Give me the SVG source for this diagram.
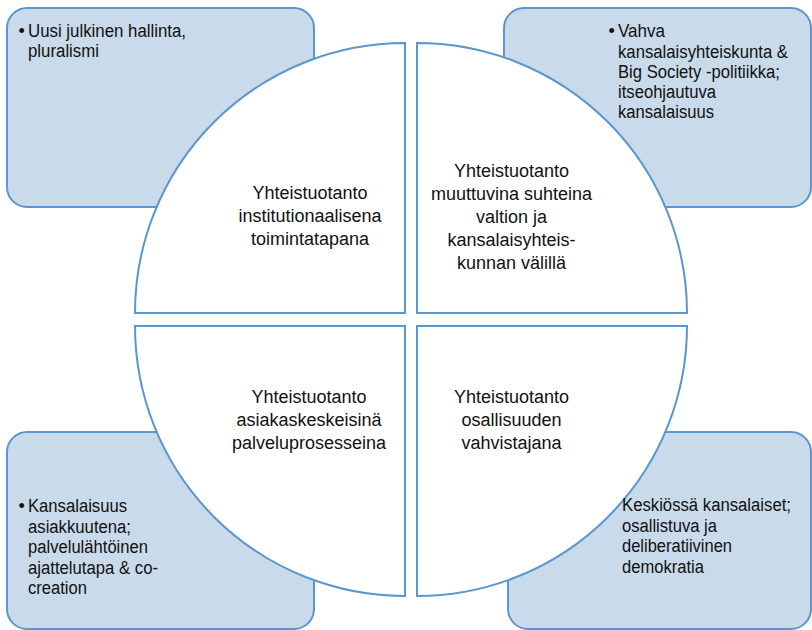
<svg xmlns="http://www.w3.org/2000/svg" width="812" height="630" viewBox="0 0 812 630">
<style>
.box{fill:#c9daeb;stroke:#5b96d0;stroke-width:2}
.quad{fill:#ffffff;stroke:#5b96d0;stroke-width:2}
.ct{font-family:"Liberation Sans",Arial,sans-serif;font-size:18px;fill:#111111;text-anchor:middle}
.bt{font-family:"Liberation Sans",Arial,sans-serif;font-size:18px;fill:#111111}
</style>
<rect width="812" height="630" fill="#ffffff"/>
<g id="box-tl"><rect class="box" x="7" y="8" width="307" height="199" rx="20"/></g>
<g id="box-tr"><rect class="box" x="504" y="8" width="307" height="199" rx="20"/></g>
<g id="box-bl"><rect class="box" x="7" y="432" width="307" height="197" rx="20"/></g>
<g id="box-br"><rect class="box" x="508" y="432" width="303" height="197" rx="20"/></g>
<g id="quad-tl">
<path class="quad" d="M405,313 L405,43 A270,270 0 0 0 135,313 Z"/>
<text class="ct" x="310" y="199">Yhteistuotanto</text>
<text class="ct" x="310" y="222">institutionaalisena</text>
<text class="ct" x="310" y="245">toimintatapana</text>
</g>
<g id="quad-tr">
<path class="quad" d="M417,313 L417,43 A270,270 0 0 1 687,313 Z"/>
<text class="ct" x="511.5" y="177">Yhteistuotanto</text>
<text class="ct" x="511.5" y="200">muuttuvina suhteina</text>
<text class="ct" x="511.5" y="223">valtion ja</text>
<text class="ct" x="511.5" y="246">kansalaisyhteis-</text>
<text class="ct" x="511.5" y="269">kunnan välillä</text>
</g>
<g id="quad-bl">
<path class="quad" d="M405,326 L135,326 A270,270 0 0 0 405,596 Z"/>
<text class="ct" x="309" y="403">Yhteistuotanto</text>
<text class="ct" x="309" y="426">asiakaskeskeisinä</text>
<text class="ct" x="309" y="449">palveluprosesseina</text>
</g>
<g id="quad-br">
<path class="quad" d="M417,326 L687,326 A270,270 0 0 1 417,596 Z"/>
<text class="ct" x="511.5" y="403">Yhteistuotanto</text>
<text class="ct" x="511.5" y="426">osallisuuden</text>
<text class="ct" x="511.5" y="449">vahvistajana</text>
</g>
<g id="box-tl-text" class="bt">
<text x="18.5" y="36.5">•</text>
<text x="28" y="36.5" textLength="158" lengthAdjust="spacingAndGlyphs">Uusi julkinen hallinta,</text>
<text x="28" y="57" textLength="71" lengthAdjust="spacingAndGlyphs">pluralismi</text>
</g>
<g id="box-tr-text" class="bt">
<text x="608.5" y="37.3">•</text>
<text x="618" y="37.3" textLength="47" lengthAdjust="spacingAndGlyphs">Vahva</text>
<text x="618" y="57.5" textLength="170" lengthAdjust="spacingAndGlyphs">kansalaisyhteiskunta &amp;</text>
<text x="618" y="77.7" textLength="162" lengthAdjust="spacingAndGlyphs">Big Society -politiikka;</text>
<text x="618" y="97.5" textLength="98" lengthAdjust="spacingAndGlyphs">itseohjautuva</text>
<text x="618" y="117.5" textLength="96" lengthAdjust="spacingAndGlyphs">kansalaisuus</text>
</g>
<g id="box-bl-text" class="bt">
<text x="18.5" y="512">•</text>
<text x="28" y="512" textLength="99" lengthAdjust="spacingAndGlyphs">Kansalaisuus</text>
<text x="28" y="532.5" textLength="103" lengthAdjust="spacingAndGlyphs">asiakkuutena;</text>
<text x="28" y="553" textLength="120" lengthAdjust="spacingAndGlyphs">palvelulähtöinen</text>
<text x="28" y="573.5" textLength="130" lengthAdjust="spacingAndGlyphs">ajattelutapa &amp; co-</text>
<text x="28" y="594" textLength="59" lengthAdjust="spacingAndGlyphs">creation</text>
</g>
<g id="box-br-text" class="bt">
<text x="622" y="511" textLength="169" lengthAdjust="spacingAndGlyphs">Keskiössä kansalaiset;</text>
<text x="622" y="531.5" textLength="95" lengthAdjust="spacingAndGlyphs">osallistuva ja</text>
<text x="622" y="552" textLength="110" lengthAdjust="spacingAndGlyphs">deliberatiivinen</text>
<text x="622" y="572.5" textLength="82" lengthAdjust="spacingAndGlyphs">demokratia</text>
</g>
</svg>
